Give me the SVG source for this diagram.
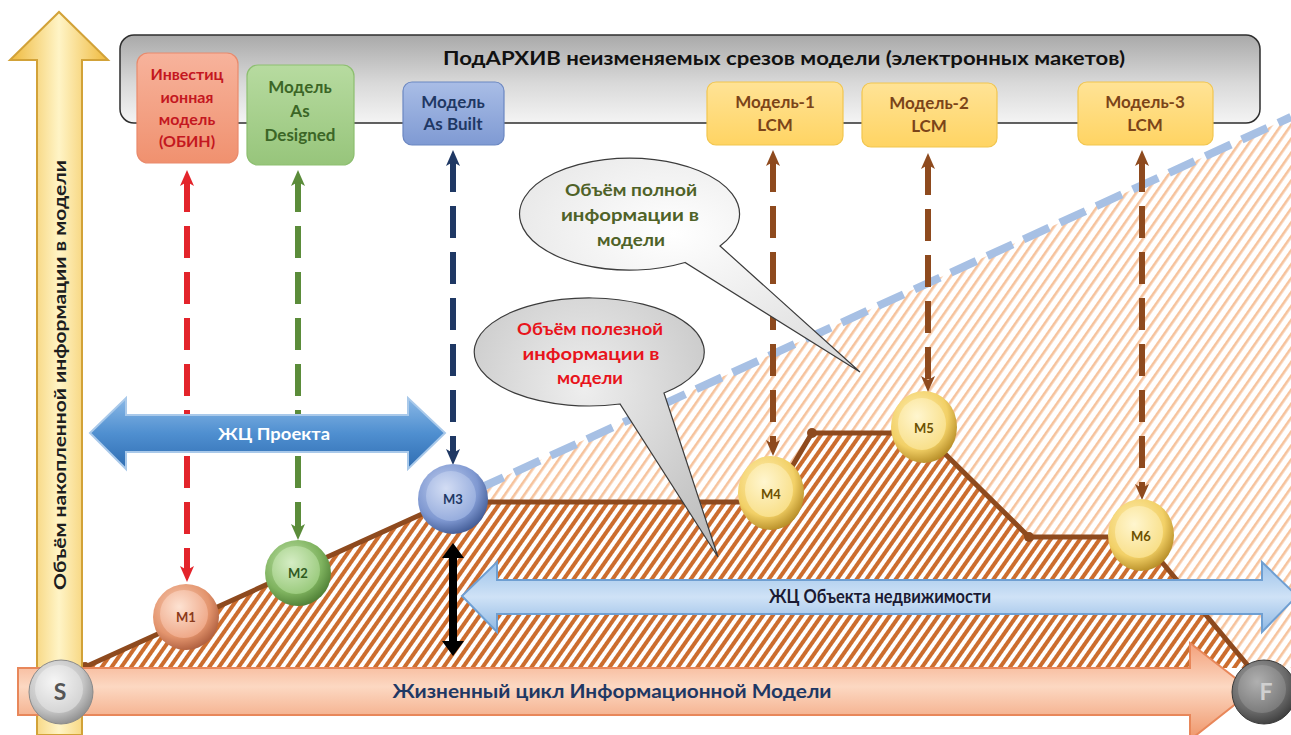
<svg xmlns="http://www.w3.org/2000/svg" width="1291" height="735" viewBox="0 0 1291 735">
  <style>
    text { font-family: Lato, "Noto Sans", sans-serif; font-weight: bold; text-anchor: middle; }
    .box-t { font-size: 17px; }
    .inv-t { font-size: 16px; }
    .bub-t { font-size: 17px; }
    .sph-t { font-size: 13px; }
    .dash { fill: none; stroke-width: 6; stroke-dasharray: 32 14; }
  </style>
  <defs>
    <pattern id="hatchDense" width="8" height="8" patternUnits="userSpaceOnUse" patternTransform="rotate(35)">
      <rect width="8" height="8" fill="#ffffff"/>
      <rect width="4" height="8" fill="#cc6d2e"/>
    </pattern>
    <pattern id="hatchLight" width="8" height="8" patternUnits="userSpaceOnUse" patternTransform="rotate(35)">
      <rect width="8" height="8" fill="#ffffff"/>
      <rect width="2.6" height="8" fill="#f6c39d"/>
    </pattern>

    <linearGradient id="gArchive" x1="0" y1="0" x2="0" y2="1">
      <stop offset="0" stop-color="#a9a9a9"/>
      <stop offset="0.55" stop-color="#d9d9d9"/>
      <stop offset="1" stop-color="#f4f4f4"/>
    </linearGradient>
    <linearGradient id="gBoxRed" x1="0" y1="0" x2="0" y2="1">
      <stop offset="0" stop-color="#f7b39c"/><stop offset="1" stop-color="#f0916f"/>
    </linearGradient>
    <linearGradient id="gBoxGreen" x1="0" y1="0" x2="0" y2="1">
      <stop offset="0" stop-color="#b7dba0"/><stop offset="1" stop-color="#97c57b"/>
    </linearGradient>
    <linearGradient id="gBoxBlue" x1="0" y1="0" x2="0" y2="1">
      <stop offset="0" stop-color="#a9bde6"/><stop offset="1" stop-color="#7f9ad3"/>
    </linearGradient>
    <linearGradient id="gBoxYellow" x1="0" y1="0" x2="0" y2="1">
      <stop offset="0" stop-color="#ffe396"/><stop offset="1" stop-color="#ffd463"/>
    </linearGradient>

    <linearGradient id="gYellowArrow" x1="0" y1="0" x2="1" y2="0">
      <stop offset="0" stop-color="#efb93c"/>
      <stop offset="0.5" stop-color="#fff4c6"/>
      <stop offset="1" stop-color="#efb93c"/>
    </linearGradient>
    <linearGradient id="gSalmonArrow" x1="0" y1="0" x2="0" y2="1">
      <stop offset="0" stop-color="#f3a07a"/>
      <stop offset="0.45" stop-color="#fcd8c2"/>
      <stop offset="1" stop-color="#ef9569"/>
    </linearGradient>
    <linearGradient id="gProject" x1="0" y1="0" x2="0" y2="1">
      <stop offset="0" stop-color="#8ab8e6"/>
      <stop offset="0.5" stop-color="#4f8fd0"/>
      <stop offset="1" stop-color="#2f6db2"/>
    </linearGradient>
    <linearGradient id="gEstate" x1="0" y1="0" x2="0" y2="1">
      <stop offset="0" stop-color="#9cc2ea"/>
      <stop offset="0.5" stop-color="#cfe2f6"/>
      <stop offset="1" stop-color="#8fb8e4"/>
    </linearGradient>
    <radialGradient id="gBubbleFull" cx="0.45" cy="0.35" r="0.75">
      <stop offset="0" stop-color="#ffffff"/><stop offset="1" stop-color="#dcdcdc"/>
    </radialGradient>
    <radialGradient id="gBubbleUse" cx="0.45" cy="0.35" r="0.75">
      <stop offset="0" stop-color="#eeeeee"/><stop offset="1" stop-color="#bdbdbd"/>
    </radialGradient>

    <!-- sphere shading: outer ring + inner disc -->
    <radialGradient id="oRed" cx="0.4" cy="0.35" r="0.7">
      <stop offset="0" stop-color="#f9cdb5"/><stop offset="0.65" stop-color="#e3946d"/><stop offset="1" stop-color="#a9593a"/>
    </radialGradient>
    <radialGradient id="iRed" cx="0.4" cy="0.35" r="0.7">
      <stop offset="0" stop-color="#fde2d2"/><stop offset="1" stop-color="#eea584"/>
    </radialGradient>
    <radialGradient id="oGreen" cx="0.4" cy="0.35" r="0.7">
      <stop offset="0" stop-color="#c2e3ab"/><stop offset="0.65" stop-color="#7fb35f"/><stop offset="1" stop-color="#4a7a31"/>
    </radialGradient>
    <radialGradient id="iGreen" cx="0.4" cy="0.35" r="0.7">
      <stop offset="0" stop-color="#d5edc4"/><stop offset="1" stop-color="#98c97a"/>
    </radialGradient>
    <radialGradient id="oBlue" cx="0.4" cy="0.35" r="0.7">
      <stop offset="0" stop-color="#c3d1f0"/><stop offset="0.65" stop-color="#7f98d1"/><stop offset="1" stop-color="#3b558f"/>
    </radialGradient>
    <radialGradient id="iBlue" cx="0.4" cy="0.35" r="0.7">
      <stop offset="0" stop-color="#d3ddf4"/><stop offset="1" stop-color="#93aadc"/>
    </radialGradient>
    <radialGradient id="oYellow" cx="0.4" cy="0.35" r="0.7">
      <stop offset="0" stop-color="#fff0b8"/><stop offset="0.65" stop-color="#f2d066"/><stop offset="1" stop-color="#b08620"/>
    </radialGradient>
    <radialGradient id="iYellow" cx="0.4" cy="0.35" r="0.7">
      <stop offset="0" stop-color="#fff6cf"/><stop offset="1" stop-color="#f8de86"/>
    </radialGradient>
    <radialGradient id="oLight" cx="0.4" cy="0.35" r="0.7">
      <stop offset="0" stop-color="#f2f2f2"/><stop offset="0.65" stop-color="#c4c4c4"/><stop offset="1" stop-color="#8a8a8a"/>
    </radialGradient>
    <radialGradient id="iLight" cx="0.4" cy="0.35" r="0.7">
      <stop offset="0" stop-color="#f6f6f6"/><stop offset="1" stop-color="#d2d2d2"/>
    </radialGradient>
    <radialGradient id="oDark" cx="0.4" cy="0.35" r="0.7">
      <stop offset="0" stop-color="#a8a8a8"/><stop offset="0.65" stop-color="#6a6a6a"/><stop offset="1" stop-color="#3a3a3a"/>
    </radialGradient>
    <radialGradient id="iDark" cx="0.4" cy="0.35" r="0.7">
      <stop offset="0" stop-color="#b0b0b0"/><stop offset="1" stop-color="#787878"/>
    </radialGradient>

    <!-- arrowheads for dashed link lines -->
    <marker id="hRed" viewBox="0 0 16 16" markerWidth="16" markerHeight="16" refX="6" refY="8" orient="auto-start-reverse" markerUnits="userSpaceOnUse">
      <path d="M0,1 L16,8 L0,15 L4,8 Z" fill="#e3242b"/>
    </marker>
    <marker id="hGreen" viewBox="0 0 16 16" markerWidth="16" markerHeight="16" refX="6" refY="8" orient="auto-start-reverse" markerUnits="userSpaceOnUse">
      <path d="M0,1 L16,8 L0,15 L4,8 Z" fill="#5b8c3a"/>
    </marker>
    <marker id="hNavy" viewBox="0 0 16 16" markerWidth="16" markerHeight="16" refX="6" refY="8" orient="auto-start-reverse" markerUnits="userSpaceOnUse">
      <path d="M0,1 L16,8 L0,15 L4,8 Z" fill="#1f3864"/>
    </marker>
    <marker id="hBrown" viewBox="0 0 16 16" markerWidth="16" markerHeight="16" refX="6" refY="8" orient="auto-start-reverse" markerUnits="userSpaceOnUse">
      <path d="M0,1 L16,8 L0,15 L4,8 Z" fill="#8e4a1e"/>
    </marker>
  </defs>

  <rect width="1291" height="735" fill="#ffffff"/>

  <!-- information volume areas -->
  <g id="areas">
    <path d="M453,500 L1291,117 L1291,668 L453,668 Z" fill="url(#hatchLight)"/>
    <path d="M85,668 L453,500 L453,502 L771,502 L812,433 L924,433 L1029,537 L1141,537 L1250,668 Z" fill="url(#hatchDense)"/>
    <line x1="478" y1="489" x2="1291" y2="117" stroke="#a7c0e4" stroke-width="8" stroke-dasharray="28 12"/>
    <polyline points="85,667 453,500 453,502 771,502 812,433 924,433 1029,537 1141,537 1250,668" fill="none" stroke="#8e4a1e" stroke-width="5" stroke-linejoin="round"/>
    <circle cx="812" cy="433" r="5" fill="#8e4a1e"/>
    <circle cx="1029" cy="537" r="5" fill="#8e4a1e"/>
    <circle cx="85" cy="667" r="5" fill="#8e4a1e"/>
  </g>

  <!-- vertical axis -->
  <g id="axis-volume">
    <path d="M37,735 L37,60 L10,60 L59,12 L108,60 L82,60 L82,735 Z" fill="url(#gYellowArrow)" stroke="#d2a238" stroke-width="2"/>
    <text transform="rotate(-90 60 375)" x="60" y="381" font-size="17" fill="#1e1e1e" textLength="430" lengthAdjust="spacingAndGlyphs">Объём накопленной информации в модели</text>
  </g>

  <!-- archive panel -->
  <g id="archive">
    <rect x="120" y="35" width="1140" height="88" rx="14" fill="url(#gArchive)" stroke="#2e2e2e" stroke-width="1.5"/>
    <text x="784" y="65" font-size="19" fill="#111111" textLength="682" lengthAdjust="spacingAndGlyphs">ПодАРХИВ неизменяемых срезов модели (электронных макетов)</text>
  </g>

  <!-- dashed links between snapshots and stages -->
  <g id="connectors">
    <line class="dash" x1="187" y1="180" x2="187" y2="572" stroke="#e3242b" marker-start="url(#hRed)" marker-end="url(#hRed)"/>
    <line class="dash" x1="298" y1="180" x2="298" y2="530" stroke="#5b8c3a" marker-start="url(#hGreen)" marker-end="url(#hGreen)"/>
    <line class="dash" x1="453" y1="160" x2="453" y2="455" stroke="#1f3864" marker-start="url(#hNavy)" marker-end="url(#hNavy)"/>
    <line class="dash" x1="773" y1="160" x2="773" y2="446" stroke="#8e4a1e" marker-start="url(#hBrown)" marker-end="url(#hBrown)"/>
    <line class="dash" x1="928" y1="163" x2="928" y2="382" stroke="#8e4a1e" marker-start="url(#hBrown)" marker-end="url(#hBrown)"/>
    <line class="dash" x1="1142" y1="160" x2="1142" y2="490" stroke="#8e4a1e" marker-start="url(#hBrown)" marker-end="url(#hBrown)"/>
    <path d="M453,543 L464,558 L457,558 L457,641 L464,641 L453,656 L442,641 L449,641 L449,558 L442,558 Z" fill="#000000"/>
  </g>

  <!-- snapshot boxes -->
  <g id="box-invest">
    <rect x="137" y="53" width="101" height="110" rx="11" fill="url(#gBoxRed)" stroke="#e98a6c" stroke-width="1.2"/>
    <text class="inv-t" x="187" y="80" fill="#c4171f">Инвестиц</text>
    <text class="inv-t" x="187" y="103" fill="#c4171f">ионная</text>
    <text class="inv-t" x="187" y="125" fill="#c4171f">модель</text>
    <text class="inv-t" x="187" y="147" fill="#c4171f">(ОБИН)</text>
  </g>
  <g id="box-designed">
    <rect x="247" y="65" width="107" height="100" rx="11" fill="url(#gBoxGreen)" stroke="#8dbf70" stroke-width="1.2"/>
    <text class="box-t" x="300" y="93" fill="#3b6626">Модель</text>
    <text class="box-t" x="300" y="117" fill="#3b6626">As</text>
    <text class="box-t" x="300" y="141" fill="#3b6626">Designed</text>
  </g>
  <g id="box-built">
    <rect x="403" y="82" width="101" height="63" rx="9" fill="url(#gBoxBlue)" stroke="#6b87c2" stroke-width="1.2"/>
    <text class="box-t" x="453" y="108" fill="#1f3864" font-weight="normal">Модель</text>
    <text class="box-t" x="453" y="130" fill="#1f3864" font-weight="normal">As Built</text>
  </g>
  <g id="box-lcm1">
    <rect x="707" y="82" width="136" height="63" rx="9" fill="url(#gBoxYellow)" stroke="#f2c64f" stroke-width="1.2"/>
    <text class="box-t" x="775" y="108" fill="#7b4419">Модель-1</text>
    <text class="box-t" x="775" y="131" fill="#7b4419">LCM</text>
  </g>
  <g id="box-lcm2">
    <rect x="862" y="83" width="135" height="64" rx="9" fill="url(#gBoxYellow)" stroke="#f2c64f" stroke-width="1.2"/>
    <text class="box-t" x="929" y="109" fill="#7b4419">Модель-2</text>
    <text class="box-t" x="929" y="132" fill="#7b4419">LCM</text>
  </g>
  <g id="box-lcm3">
    <rect x="1078" y="82" width="135" height="63" rx="9" fill="url(#gBoxYellow)" stroke="#f2c64f" stroke-width="1.2"/>
    <text class="box-t" x="1145" y="108" fill="#7b4419">Модель-3</text>
    <text class="box-t" x="1145" y="131" fill="#7b4419">LCM</text>
  </g>

  <!-- callouts -->
  <g id="callout-full">
    <path d="M720,246 A110,56 0 1 0 685,262.5 L860,372 Z" fill="url(#gBubbleFull)" stroke="#3c3c3c" stroke-width="1.2"/>
    <text class="bub-t" x="631" y="196" fill="#4f6228" textLength="132" lengthAdjust="spacingAndGlyphs">Объём полной</text>
    <text class="bub-t" x="630" y="221" fill="#4f6228" textLength="138" lengthAdjust="spacingAndGlyphs">информации в</text>
    <text class="bub-t" x="631" y="246" fill="#4f6228" textLength="68" lengthAdjust="spacingAndGlyphs">модели</text>
  </g>
  <g id="callout-useful">
    <path d="M664,393 A115,54 0 1 0 620,404 L718,557 Z" fill="url(#gBubbleUse)" stroke="#3c3c3c" stroke-width="1.2"/>
    <text class="bub-t" x="590" y="335" fill="#e8141c" textLength="146" lengthAdjust="spacingAndGlyphs">Объём полезной</text>
    <text class="bub-t" x="591" y="360" fill="#e8141c" textLength="137" lengthAdjust="spacingAndGlyphs">информации в</text>
    <text class="bub-t" x="590" y="384" fill="#e8141c" textLength="66" lengthAdjust="spacingAndGlyphs">модели</text>
  </g>

  <!-- life-cycle arrows -->
  <g id="lc-project">
    <path d="M90,433 L126,398 L126,415 L408,415 L408,398 L445,433 L408,469 L408,452 L126,452 L126,469 Z" fill="url(#gProject)" stroke="#a9c9ea" stroke-width="2"/>
    <text x="274" y="440" font-size="17" fill="#ffffff" textLength="112" lengthAdjust="spacingAndGlyphs">ЖЦ Проекта</text>
  </g>
  <g id="lc-estate">
    <path d="M462,596 L497,562 L497,580 L1262,580 L1262,562 L1297,596 L1262,632 L1262,614 L497,614 L497,632 Z" fill="url(#gEstate)" stroke="#6f9fd2" stroke-width="2"/>
    <text x="880" y="603" font-size="19" fill="#1a1a33" textLength="222" lengthAdjust="spacingAndGlyphs">ЖЦ Объекта недвижимости</text>
  </g>
  <g id="lc-model">
    <path d="M18,668 L1190,668 L1190,643 L1252,691 L1190,740 L1190,715 L18,715 Z" fill="url(#gSalmonArrow)" stroke="#e8875a" stroke-width="2"/>
    <text x="612" y="698" font-size="18" fill="#1f3864" textLength="439" lengthAdjust="spacingAndGlyphs">Жизненный цикл Информационной Модели</text>
  </g>

  <!-- stage spheres -->
  <g id="node-S">
    <circle cx="61" cy="692" r="32" fill="url(#oLight)" stroke="#8a8a8a" stroke-width="1"/>
    <circle cx="59" cy="689" r="24" fill="url(#iLight)"/>
    <text x="60" y="700" font-size="23" fill="#555555" font-weight="normal">S</text>
  </g>
  <g id="node-M1">
    <circle cx="186" cy="617" r="33" fill="url(#oRed)"/>
    <circle cx="184" cy="614" r="24" fill="url(#iRed)"/>
    <text class="sph-t" x="186" y="622" fill="#8b3a1a">M1</text>
  </g>
  <g id="node-M2">
    <circle cx="298" cy="573" r="33" fill="url(#oGreen)"/>
    <circle cx="296" cy="570" r="24" fill="url(#iGreen)"/>
    <text class="sph-t" x="298" y="578" fill="#2f5a1f">M2</text>
  </g>
  <g id="node-M3">
    <circle cx="453" cy="499" r="35" fill="url(#oBlue)"/>
    <circle cx="451" cy="496" r="25" fill="url(#iBlue)"/>
    <text class="sph-t" x="453" y="504" fill="#1f3864">M3</text>
  </g>
  <g id="node-M4">
    <ellipse cx="771" cy="493" rx="33" ry="37" fill="url(#oYellow)"/>
    <ellipse cx="769" cy="490" rx="24" ry="27" fill="url(#iYellow)"/>
    <text class="sph-t" x="771" y="499" fill="#6b5000">M4</text>
  </g>
  <g id="node-M5">
    <ellipse cx="924" cy="427" rx="33" ry="36" fill="url(#oYellow)"/>
    <ellipse cx="922" cy="424" rx="24" ry="26" fill="url(#iYellow)"/>
    <text class="sph-t" x="924" y="433" fill="#6b5000">M5</text>
  </g>
  <g id="node-M6">
    <ellipse cx="1141" cy="535" rx="33" ry="36" fill="url(#oYellow)"/>
    <ellipse cx="1139" cy="532" rx="24" ry="26" fill="url(#iYellow)"/>
    <text class="sph-t" x="1141" y="541" fill="#6b5000">M6</text>
  </g>
  <g id="node-F">
    <circle cx="1264" cy="692" r="32" fill="url(#oDark)" stroke="#3a3a3a" stroke-width="1"/>
    <circle cx="1262" cy="689" r="24" fill="url(#iDark)"/>
    <text x="1266" y="700" font-size="23" fill="#d0d0d0" font-weight="normal">F</text>
  </g>
</svg>
